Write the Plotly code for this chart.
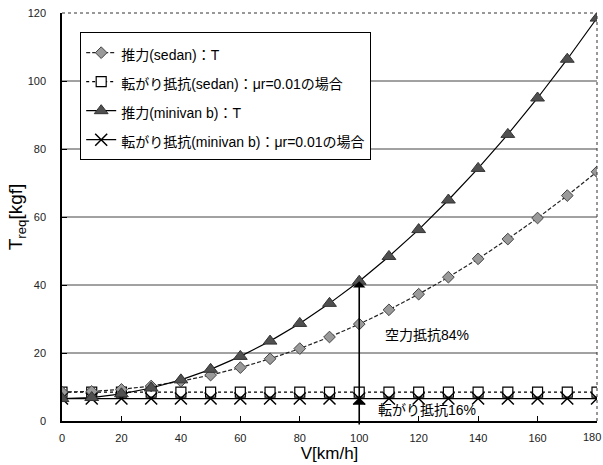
import plotly.graph_objects as go

speed = [0, 10, 20, 30, 40, 50, 60, 70, 80, 90, 100, 110, 120, 130, 140, 150, 160, 170, 180]
sedan_thrust = [8.5, 8.7, 9.3, 10.3, 11.7, 13.5, 15.7, 18.3, 21.3, 24.7, 28.5, 32.7, 37.3, 42.3, 47.7, 53.5, 59.7, 66.3, 73.3]
sedan_roll = [8.5] * 19
minivan_thrust = [6.6, 6.9, 8.0, 9.7, 12.1, 15.2, 19.0, 23.5, 28.7, 34.6, 41.1, 48.4, 56.3, 65.0, 74.3, 84.3, 95.0, 106.4, 118.5]
minivan_roll = [6.6] * 19

names = ["推力(sedan)：T", "転がり抵抗(sedan)：μr=0.01の場合",
         "推力(minivan b)：T", "転がり抵抗(minivan b)：μr=0.01の場合"]
y_ticks = [0, 20, 40, 60, 80, 100, 120]
x_ticks = [0, 20, 40, 60, 80, 100, 120, 140, 160, 180]
mark_speed = 100
aero_label = "空力抵抗84%"
roll_label = "転がり抵抗16%"

FONT = "Liberation Sans, Arial, Noto Sans CJK JP"


def lg(t):
    return "<span style='font-size:14px'>" + t + "</span>"


fig = go.Figure()
fig.add_trace(go.Scatter(x=speed, y=sedan_roll, name=lg(names[1]), mode="lines+markers",
                         line=dict(color="black", width=1.2, dash="dot"),
                         marker=dict(symbol="square", size=10, color="white",
                                     line=dict(color="black", width=1.2))))
fig.add_trace(go.Scatter(x=speed, y=minivan_roll, name=lg(names[3]), mode="lines+markers",
                         line=dict(color="black", width=1.2),
                         marker=dict(symbol="x-thin-open", size=12,
                                     line=dict(color="black", width=1.5))))
fig.add_trace(go.Scatter(x=speed, y=sedan_thrust, name=lg(names[0]), mode="lines+markers",
                         line=dict(color="#222", width=1.2, dash="4px,2px"),
                         marker=dict(symbol="diamond", size=9, color="#9a9a9a",
                                     line=dict(color="#444", width=1))))
fig.add_trace(go.Scatter(x=speed, y=minivan_thrust, name=lg(names[2]), mode="lines+markers",
                         line=dict(color="black", width=1.2),
                         marker=dict(symbol="triangle-up", size=12, color="#505050",
                                     line=dict(color="#333", width=1))))

shapes = []
for g in y_ticks[1:-1]:
    shapes.append(dict(type="line", xref="paper", yref="y", x0=0, x1=1, y0=g, y1=g,
                       line=dict(color="#444", width=1), layer="below"))
shapes.append(dict(type="line", xref="paper", yref="paper", x0=0, x1=1, y0=1, y1=1,
                   line=dict(color="#333", width=1, dash="dot")))
shapes.append(dict(type="line", xref="paper", yref="paper", x0=1, x1=1, y0=0, y1=1,
                   line=dict(color="#333", width=1, dash="dot")))

i = speed.index(mark_speed)
annotations = [
    dict(x=mark_speed, y=minivan_roll[i], ax=mark_speed, ay=-1.5, xref="x", yref="y",
         axref="x", ayref="y", text="", showarrow=True, arrowhead=1, arrowsize=1.3,
         arrowwidth=1.6, arrowcolor="black"),
    dict(x=mark_speed, y=minivan_thrust[i], ax=mark_speed, ay=minivan_roll[i], xref="x", yref="y",
         axref="x", ayref="y", text="", showarrow=True, arrowhead=1, arrowsize=1.3,
         arrowwidth=1.6, arrowcolor="black"),
    dict(x=mark_speed + 8, y=25.3, xref="x", yref="y", text=aero_label, showarrow=False,
         xanchor="left", font=dict(size=14, color="black", family=FONT)),
    dict(x=mark_speed + 5.5, y=3.2, xref="x", yref="y", text=roll_label, showarrow=False,
         xanchor="left", font=dict(size=14, color="black", family=FONT)),
    # last tick label, pushed against the right page edge as in the original
    dict(x=x_ticks[-1], y=0, xref="x", yref="paper", yshift=-16, xshift=6,
         text=str(x_ticks[-1]), showarrow=False, xanchor="right", yanchor="middle",
         font=dict(size=11, color="#222", family=FONT)),
]

fig.update_layout(
    width=603, height=465,
    margin=dict(l=62, r=6, t=13, b=44),
    paper_bgcolor="white", plot_bgcolor="white",
    font=dict(family=FONT, color="black"),
    showlegend=True,
    legend=dict(x=0.034, y=0.953, xanchor="left", yanchor="top",
                bgcolor="white", bordercolor="black", borderwidth=1,
                font=dict(size=20, family=FONT), traceorder="normal",
                itemwidth=30, tracegroupgap=0),
    shapes=shapes, annotations=annotations,
    xaxis=dict(range=[0, 180], tickvals=x_ticks[:-1], ticks="inside", ticklen=5,
               tickcolor="black", showgrid=False, zeroline=False,
               showline=True, linecolor="black", linewidth=1.5,
               tickfont=dict(size=11, color="#222"), ticklabelstandoff=6,
               title=dict(text="V[km/h]", font=dict(size=17), standoff=4)),
    yaxis=dict(range=[0, 120], tickvals=y_ticks, ticks="inside", ticklen=5,
               tickcolor="black", showgrid=False, zeroline=False,
               showline=True, linecolor="black", linewidth=1.5,
               tickfont=dict(size=11, color="#222"), ticklabelstandoff=12,
               title=dict(text="T<sub>req</sub>[kgf]", font=dict(size=19), standoff=0)),
)

# legend order: sedan thrust, sedan roll, minivan thrust, minivan roll
fig.data[0].legendrank = 2
fig.data[1].legendrank = 4
fig.data[2].legendrank = 1
fig.data[3].legendrank = 3

fig.write_html("out.html", config={"displayModeBar": False},
               post_script="document.body.style.margin='0px';")
